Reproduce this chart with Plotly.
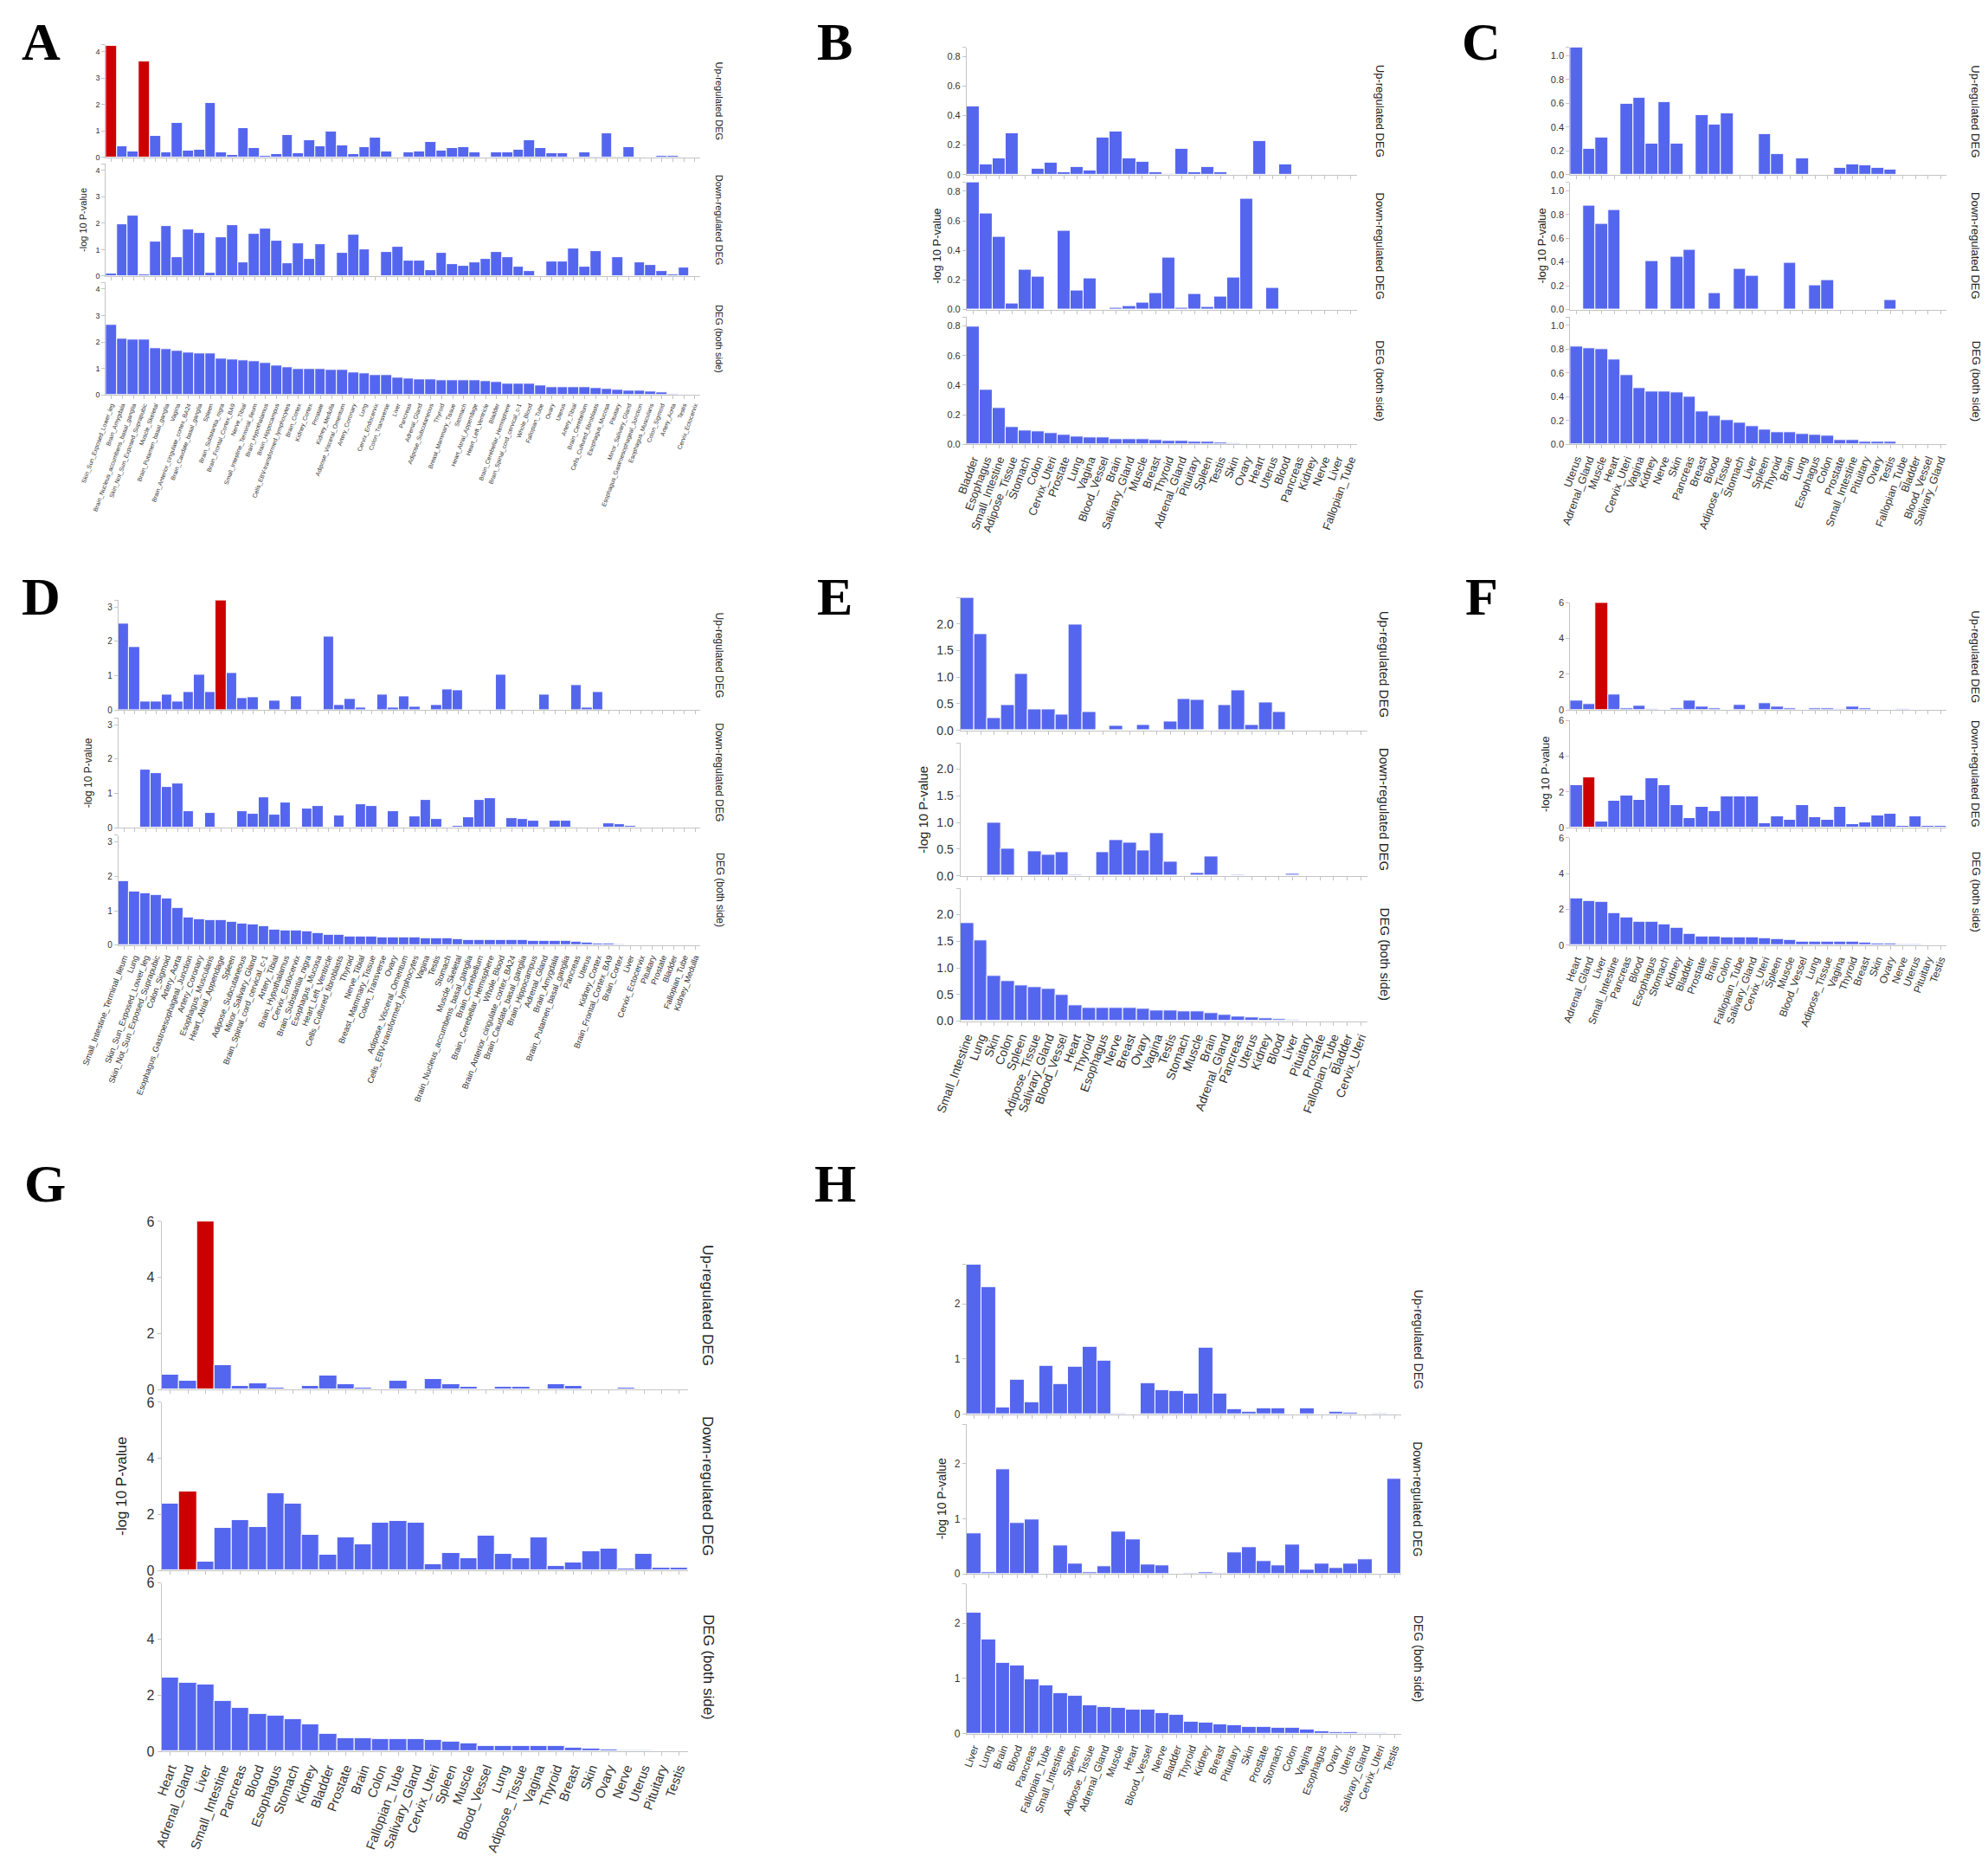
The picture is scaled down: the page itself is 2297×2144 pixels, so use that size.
import plotly.graph_objects as go

BLUE = "#5566ee"
RED = "#cc0000"

# ---- panel A (GTEx 54 tissues) ----
a_tissues = ["Skin_Sun_Exposed_Lower_leg", "Brain_Amygdala", "Brain_Nucleus_accumbens_basal_ganglia",
             "Skin_Not_Sun_Exposed_Suprapubic", "Muscle_Skeletal", "Brain_Putamen_basal_ganglia", "Vagina",
             "Brain_Anterior_cingulate_cortex_BA24", "Brain_Caudate_basal_ganglia", "Spleen",
             "Brain_Substantia_nigra", "Brain_Frontal_Cortex_BA9", "Nerve_Tibial",
             "Small_Intestine_Terminal_Ileum", "Brain_Hypothalamus", "Brain_Hippocampus",
             "Cells_EBV-transformed_lymphocytes", "Brain_Cortex", "Kidney_Cortex", "Prostate",
             "Kidney_Medulla", "Adipose_Visceral_Omentum", "Artery_Coronary", "Lung", "Cervix_Endocervix",
             "Colon_Transverse", "Liver", "Pancreas", "Adrenal_Gland", "Adipose_Subcutaneous", "Thyroid",
             "Breast_Mammary_Tissue", "Stomach", "Heart_Atrial_Appendage", "Heart_Left_Ventricle", "Bladder",
             "Brain_Cerebellar_Hemisphere", "Brain_Spinal_cord_cervical_c-1", "Whole_Blood", "Fallopian_Tube",
             "Ovary", "Uterus", "Artery_Tibial", "Brain_Cerebellum", "Cells_Cultured_fibroblasts",
             "Esophagus_Mucosa", "Pituitary", "Minor_Salivary_Gland", "Esophagus_Gastroesophageal_Junction",
             "Esophagus_Muscularis", "Colon_Sigmoid", "Artery_Aorta", "Testis", "Cervix_Ectocervix"]
a_up = [4.22, 0.42, 0.22, 3.62, 0.8, 0.18, 1.3, 0.25, 0.28, 2.05,
        0.2, 0.1, 1.1, 0.35, 0.06, 0.13, 0.85, 0.15, 0.65, 0.42,
        0.97, 0.45, 0.12, 0.4, 0.75, 0.22, 0, 0.2, 0.22, 0.6,
        0.25, 0.35, 0.4, 0.2, 0, 0.18, 0.18, 0.28, 0.65, 0.35,
        0.15, 0.15, 0, 0.2, 0.03, 0.9, 0.03, 0.4, 0, 0,
        0.05, 0.05, 0.01, 0.01]
a_down = [0.08, 1.95, 2.3, 0.05, 1.3, 1.9, 0.73, 1.75, 1.63, 0.12,
          1.48, 1.93, 0.52, 1.6, 1.78, 1.33, 0.48, 1.25, 0.66, 1.22,
          0, 0.87, 1.57, 1.02, 0, 0.9, 1.12, 0.6, 0.6, 0.23,
          0.88, 0.45, 0.4, 0.52, 0.65, 0.92, 0.7, 0.37, 0.2, 0,
          0.55, 0.55, 1.03, 0.37, 0.95, 0.01, 0.7, 0.03, 0.53, 0.43,
          0.2, 0.05, 0.32, 0]
a_both = [2.65, 2.12, 2.08, 2.08, 1.77, 1.73, 1.68, 1.6, 1.58, 1.55,
          1.38, 1.33, 1.3, 1.27, 1.22, 1.12, 1.03, 0.98, 0.98, 0.97,
          0.95, 0.95, 0.83, 0.82, 0.75, 0.74, 0.65, 0.63, 0.6, 0.57,
          0.56, 0.55, 0.55, 0.54, 0.53, 0.5, 0.42, 0.42, 0.42, 0.35,
          0.3, 0.3, 0.3, 0.29, 0.27, 0.23, 0.18, 0.15, 0.15, 0.12,
          0.09, 0.03, 0.01, 0.005]

# ---- panel B ----
b_tissues = ["Bladder", "Esophagus", "Small_Intestine", "Adipose_Tissue", "Stomach", "Colon", "Cervix_Uteri",
             "Prostate", "Lung", "Vagina", "Blood_Vessel", "Brain", "Salivary_Gland", "Muscle", "Breast",
             "Thyroid", "Adrenal_Gland", "Pituitary", "Spleen", "Testis", "Skin", "Ovary", "Heart", "Uterus",
             "Blood", "Pancreas", "Kidney", "Nerve", "Liver", "Fallopian_Tube"]
b_up = [0.46, 0.07, 0.11, 0.28, 0, 0.04, 0.08, 0.015, 0.055, 0.03,
        0.25, 0.29, 0.11, 0.085, 0.02, 0.008, 0.175, 0.015, 0.05, 0.015,
        0, 0, 0.225, 0, 0.068, 0, 0, 0, 0, 0]
b_down = [0.86, 0.65, 0.49, 0.04, 0.27, 0.22, 0, 0.535, 0.13, 0.21,
          0, 0.01, 0.025, 0.045, 0.11, 0.35, 0.01, 0.105, 0.015, 0.09,
          0.215, 0.75, 0, 0.145, 0, 0, 0, 0, 0, 0]
b_both = [0.795, 0.37, 0.245, 0.115, 0.095, 0.085, 0.075, 0.065, 0.05, 0.045,
          0.045, 0.035, 0.035, 0.035, 0.028, 0.022, 0.022, 0.015, 0.015, 0.01,
          0.003, 0, 0, 0, 0, 0, 0, 0, 0, 0]

# ---- panel C ----
c_tissues = ["Uterus", "Adrenal_Gland", "Muscle", "Heart", "Cervix_Uteri", "Vagina", "Kidney", "Nerve", "Skin",
             "Pancreas", "Breast", "Blood", "Adipose_Tissue", "Stomach", "Liver", "Spleen", "Thyroid", "Brain",
             "Lung", "Esophagus", "Colon", "Prostate", "Small_Intestine", "Pituitary", "Ovary", "Testis",
             "Fallopian_Tube", "Bladder", "Blood_Vessel", "Salivary_Gland"]
c_up = [1.07, 0.22, 0.31, 0, 0.6, 0.65, 0.26, 0.61, 0.26, 0,
        0.5, 0.42, 0.52, 0, 0, 0.34, 0.175, 0, 0.14, 0,
        0, 0.055, 0.09, 0.08, 0.06, 0.04, 0, 0, 0, 0]
c_down = [0, 0.87, 0.72, 0.835, 0, 0, 0.405, 0, 0.445, 0.5,
          0, 0.135, 0, 0.34, 0.285, 0, 0, 0.395, 0, 0.2,
          0.25, 0, 0, 0, 0, 0.08, 0, 0, 0, 0]
c_both = [0.825, 0.81, 0.8, 0.71, 0.585, 0.475, 0.445, 0.445, 0.435, 0.4,
          0.275, 0.24, 0.205, 0.18, 0.155, 0.125, 0.105, 0.1, 0.085, 0.078,
          0.075, 0.035, 0.033, 0.025, 0.022, 0.022, 0, 0, 0, 0]

# ---- panel D (GTEx 54 tissues) ----
d_tissues = ["Small_Intestine_Terminal_Ileum", "Lung", "Skin_Sun_Exposed_Lower_leg",
             "Skin_Not_Sun_Exposed_Suprapubic", "Colon_Sigmoid", "Artery_Aorta",
             "Esophagus_Gastroesophageal_Junction", "Artery_Coronary", "Esophagus_Muscularis",
             "Heart_Atrial_Appendage", "Spleen", "Adipose_Subcutaneous", "Minor_Salivary_Gland",
             "Brain_Spinal_cord_cervical_c-1", "Artery_Tibial", "Brain_Hypothalamus", "Cervix_Endocervix",
             "Brain_Substantia_nigra", "Esophagus_Mucosa", "Heart_Left_Ventricle", "Cells_Cultured_fibroblasts",
             "Thyroid", "Nerve_Tibial", "Breast_Mammary_Tissue", "Colon_Transverse", "Ovary",
             "Adipose_Visceral_Omentum", "Cells_EBV-transformed_lymphocytes", "Vagina", "Testis", "Stomach",
             "Muscle_Skeletal", "Brain_Nucleus_accumbens_basal_ganglia", "Brain_Cerebellum",
             "Brain_Cerebellar_Hemisphere", "Whole_Blood", "Brain_Anterior_cingulate_cortex_BA24",
             "Brain_Caudate_basal_ganglia", "Brain_Hippocampus", "Adrenal_Gland", "Brain_Amygdala",
             "Brain_Putamen_basal_ganglia", "Pancreas", "Uterus", "Kidney_Cortex", "Brain_Frontal_Cortex_BA9",
             "Brain_Cortex", "Liver", "Cervix_Ectocervix", "Pituitary", "Prostate", "Bladder", "Fallopian_Tube",
             "Kidney_Medulla"]
d_up = [2.53, 1.84, 0.26, 0.26, 0.44, 0.26, 0.53, 1.03, 0.52, 3.2,
        1.07, 0.35, 0.38, 0, 0.27, 0, 0.41, 0, 0, 2.13,
        0.14, 0.33, 0.07, 0, 0.45, 0.07, 0.41, 0.1, 0, 0.15,
        0.6, 0.58, 0, 0, 0, 1.04, 0, 0, 0, 0.46,
        0, 0, 0.74, 0.08, 0.52, 0, 0, 0, 0, 0,
        0, 0, 0, 0]
d_down = [0, 0, 1.69, 1.59, 1.18, 1.29, 0.47, 0, 0.42, 0.03,
          0, 0.48, 0.4, 0.89, 0.38, 0.74, 0, 0.56, 0.63, 0.02,
          0.36, 0, 0.68, 0.63, 0, 0.47, 0, 0.32, 0.81, 0.26,
          0, 0.06, 0.29, 0.81, 0.85, 0, 0.27, 0.25, 0.21, 0,
          0.2, 0.2, 0.02, 0, 0, 0.12, 0.1, 0.04, 0, 0,
          0, 0, 0, 0]
d_both = [1.87, 1.55, 1.5, 1.45, 1.36, 1.09, 0.81, 0.76, 0.74, 0.73,
          0.69, 0.63, 0.61, 0.55, 0.46, 0.43, 0.42, 0.39, 0.34, 0.3,
          0.29, 0.26, 0.26, 0.26, 0.235, 0.23, 0.22, 0.22, 0.21, 0.21,
          0.2, 0.185, 0.15, 0.15, 0.15, 0.15, 0.145, 0.14, 0.13, 0.13,
          0.125, 0.12, 0.1, 0.08, 0.06, 0.04, 0.03, 0.01, 0, 0,
          0, 0, 0, 0]

# ---- panel E ----
e_tissues = ["Small_Intestine", "Lung", "Skin", "Colon", "Spleen", "Adipose_Tissue", "Salivary_Gland",
             "Blood_Vessel", "Heart", "Thyroid", "Esophagus", "Nerve", "Breast", "Ovary", "Vagina", "Testis",
             "Stomach", "Muscle", "Brain", "Adrenal_Gland", "Pancreas", "Uterus", "Kidney", "Blood", "Liver",
             "Pituitary", "Prostate", "Fallopian_Tube", "Bladder", "Cervix_Uteri"]
e_up = [2.49, 1.81, 0.24, 0.47, 1.06, 0.4, 0.4, 0.29, 1.99, 0.34,
        0, 0.085, 0, 0.1, 0, 0.16, 0.59, 0.58, 0, 0.47,
        0.75, 0.1, 0.52, 0.34, 0, 0, 0, 0, 0, 0]
e_down = [0, 0, 0.99, 0.51, 0, 0.46, 0.4, 0.44, 0.025, 0,
          0.44, 0.67, 0.63, 0.48, 0.8, 0.26, 0, 0.06, 0.36, 0,
          0.02, 0, 0, 0, 0.04, 0, 0, 0, 0, 0]
e_both = [1.84, 1.52, 0.845, 0.75, 0.67, 0.64, 0.6, 0.49, 0.29, 0.25,
          0.25, 0.25, 0.25, 0.23, 0.2, 0.2, 0.19, 0.18, 0.15, 0.12,
          0.09, 0.07, 0.06, 0.03, 0.015, 0, 0, 0, 0, 0]

# ---- panels F and G (same result, G enlarged) ----
f_tissues = ["Heart", "Adrenal_Gland", "Liver", "Small_Intestine", "Pancreas", "Blood", "Esophagus", "Stomach",
             "Kidney", "Bladder", "Prostate", "Brain", "Colon", "Fallopian_Tube", "Salivary_Gland", "Cervix_Uteri",
             "Spleen", "Muscle", "Blood_Vessel", "Lung", "Adipose_Tissue", "Vagina", "Thyroid", "Breast", "Skin",
             "Ovary", "Nerve", "Uterus", "Pituitary", "Testis"]
f_up = [0.54, 0.32, 6.0, 0.88, 0.12, 0.23, 0.06, 0, 0.12, 0.51,
        0.19, 0.08, 0, 0.31, 0, 0.39, 0.19, 0.09, 0.01, 0.1,
        0.09, 0.05, 0.2, 0.12, 0.01, 0.02, 0.07, 0, 0, 0]
f_down = [2.39, 2.83, 0.33, 1.51, 1.81, 1.54, 2.76, 2.39, 1.28, 0.55,
          1.18, 0.94, 1.72, 1.76, 1.72, 0.24, 0.63, 0.44, 1.24, 0.6,
          0.43, 1.18, 0.17, 0.28, 0.69, 0.77, 0.08, 0.61, 0.09, 0.09]
f_both = [2.62, 2.45, 2.4, 1.79, 1.55, 1.33, 1.29, 1.16, 0.96, 0.63,
          0.47, 0.47, 0.44, 0.43, 0.43, 0.41, 0.35, 0.3, 0.19, 0.19,
          0.19, 0.19, 0.18, 0.14, 0.09, 0.08, 0.04, 0.03, 0.01, 0.01]

# ---- panel H ----
h_tissues = ["Liver", "Lung", "Brain", "Blood", "Pancreas", "Fallopian_Tube", "Small_Intestine", "Spleen",
             "Adipose_Tissue", "Adrenal_Gland", "Muscle", "Heart", "Blood_Vessel", "Nerve", "Bladder", "Thyroid",
             "Kidney", "Breast", "Pituitary", "Skin", "Prostate", "Stomach", "Colon", "Vagina", "Esophagus",
             "Ovary", "Uterus", "Salivary_Gland", "Cervix_Uteri", "Testis"]
h_up = [2.71, 2.3, 0.13, 0.62, 0.22, 0.88, 0.54, 0.855, 1.22, 0.97,
        0.015, 0, 0.565, 0.44, 0.42, 0.37, 1.2, 0.38, 0.09, 0.04,
        0.11, 0.1, 0, 0.11, 0, 0.05, 0.03, 0, 0.01, 0]
h_down = [0.74, 0.03, 1.9, 0.92, 0.99, 0, 0.52, 0.19, 0.03, 0.14,
          0.77, 0.62, 0.17, 0.16, 0, 0.02, 0.025, 0.02, 0.39, 0.48,
          0.23, 0.16, 0.53, 0.08, 0.18, 0.1, 0.18, 0.26, 0, 1.72]
h_both = [2.2, 1.7, 1.28, 1.24, 0.99, 0.87, 0.73, 0.69, 0.51, 0.48,
          0.46, 0.43, 0.43, 0.38, 0.34, 0.22, 0.2, 0.17, 0.15, 0.13,
          0.12, 0.1, 0.1, 0.08, 0.045, 0.03, 0.025, 0.02, 0.005, 0.003]

side_titles = ["Up-regulated DEG", "Down-regulated DEG", "DEG (both side)"]

# positions below are in a 1568 x 1464 reference frame
# box = (axis left, axis right, top of first plot, zero of last plot, gap)
panels = [
    dict(letter="A", pos=(27, 27), cats=a_tissues, data=(a_up, a_down, a_both), red=([0, 3], []),
         box=(78, 547, 30, 306, 5), yr=4.25, ticks=[0, 1, 2, 3, 4], fmt="{:.0f}",
         fs=7, ys=9, ts=11, ttl_x=60, side_x=562),
    dict(letter="B", pos=(653, 27), cats=b_tissues, data=(b_up, b_down, b_both), red=([], []),
         box=(757, 1065, 32, 345, 6), yr=0.86, ticks=[0, 0.2, 0.4, 0.6, 0.8], fmt="{:.1f}",
         fs=13, ys=11, ts=13, ttl_x=733, side_x=1083),
    dict(letter="C", pos=(1163, 27), cats=c_tissues, data=(c_up, c_down, c_both), red=([], []),
         box=(1233, 1530, 32, 345, 6), yr=1.07, ticks=[0, 0.2, 0.4, 0.6, 0.8, 1.0], fmt="{:.1f}",
         fs=12.5, ys=11, ts=13, ttl_x=1210, side_x=1553),
    dict(letter="D", pos=(27, 465), cats=d_tissues, data=(d_up, d_down, d_both), red=([9], []),
         box=(88, 547, 468, 740, 6), yr=3.2, ticks=[0, 1, 2, 3], fmt="{:.0f}",
         fs=9.5, ys=10, ts=12, ttl_x=64, side_x=562),
    dict(letter="E", pos=(653, 465), cats=e_tissues, data=(e_up, e_down, e_both), red=([], []),
         box=(752, 1073, 466, 800, 10), yr=2.49, ticks=[0, 0.5, 1.0, 1.5, 2.0], fmt="{:.1f}",
         fs=14, ys=14, ts=15, ttl_x=722, side_x=1087),
    dict(letter="F", pos=(1163, 465), cats=f_tissues, data=(f_up, f_down, f_both), red=([2], [1]),
         box=(1233, 1530, 470, 740, 8), yr=6.0, ticks=[0, 2, 4, 6], fmt="{:.0f}",
         fs=12, ys=11, ts=13, ttl_x=1213, side_x=1553),
    dict(letter="G", pos=(30, 928), cats=f_tissues, data=(f_up, f_down, f_both), red=([2], [1]),
         box=(122, 537, 958, 1376, 10), yr=6.0, ticks=[0, 2, 4, 6], fmt="{:.0f}",
         fs=15, ys=16, ts=17, ttl_x=90, side_x=553),
    dict(letter="H", pos=(653, 928), cats=h_tissues, data=(h_up, h_down, h_both), red=([], []),
         box=(757, 1100, 992, 1362, 8), yr=2.71, ticks=[0, 1, 2], fmt="{:.0f}",
         fs=12, ys=12, ts=14, ttl_x=737, side_x=1113),
]

FW, FH = 1568.0, 1464.0


def px(x):
    return x / FW


def py(y):
    return 1 - y / FH


fig = go.Figure()
annotations = []
n = 0
for p in panels:
    x0, x1, yt, yb, gap = p["box"]
    h = (yb - yt - 2 * gap) / 3.0
    for j in range(3):
        n += 1
        vals = p["data"][j]
        reds = p["red"][j] if j < 2 else []
        top = yt + j * (h + gap)
        bot = top + h
        colors = [RED if i in reds else BLUE for i in range(len(vals))]
        xa = "x" if n == 1 else f"x{n}"
        ya = "y" if n == 1 else f"y{n}"
        fig.add_trace(go.Bar(x=p["cats"], y=vals, xaxis=xa, yaxis=ya, showlegend=False,
                             marker=dict(color=colors, line=dict(color="white", width=1))))
        # tick at the top end of the y axis gives the small cap seen in the original
        yt_vals = p["ticks"] + [p["yr"]]
        yt_text = [p["fmt"].format(t) for t in p["ticks"]] + [""]
        fig.update_layout(**{
            ("xaxis" if n == 1 else f"xaxis{n}"): dict(
                domain=[px(x0), px(x1)], anchor=ya, type="category",
                categoryorder="array", categoryarray=p["cats"],
                tickmode="array", tickvals=p["cats"], ticktext=p["cats"],
                range=[-0.5, len(p["cats"]) - 0.5], automargin=False,
                showline=True, linecolor="#c4c4c4", linewidth=1,
                ticks="outside", ticklen=4, tickcolor="#c4c4c4",
                showticklabels=(j == 2), tickangle=-70,
                tickfont=dict(family="Liberation Sans", size=p["fs"], color="#333333"),
                showgrid=False, zeroline=False),
            ("yaxis" if n == 1 else f"yaxis{n}"): dict(
                domain=[py(bot), py(top)], anchor=xa, range=[0, p["yr"]], automargin=False,
                tickmode="array", tickvals=yt_vals, ticktext=yt_text,
                showline=True, linecolor="#c4c4c4", linewidth=1,
                ticks="outside", ticklen=4, tickcolor="#c4c4c4",
                tickfont=dict(family="Liberation Sans", size=p["ys"], color="#333333"),
                showgrid=False, zeroline=False),
        })
        annotations.append(dict(text=side_titles[j], x=px(p["side_x"]), y=py((top + bot) / 2),
                                xref="paper", yref="paper", showarrow=False, textangle=90,
                                xanchor="center", yanchor="middle",
                                font=dict(family="Liberation Sans", size=p["ts"], color="#222222")))
        if j == 1:
            annotations.append(dict(text="-log 10 P-value", x=px(p["ttl_x"]), y=py((top + bot) / 2),
                                    xref="paper", yref="paper", showarrow=False, textangle=-90,
                                    xanchor="center", yanchor="middle",
                                    font=dict(family="Liberation Sans", size=p["ts"], color="#222222")))
    annotations.append(dict(text="<b>" + p["letter"] + "</b>", x=px(p["pos"][0]), y=py(p["pos"][1]),
                            xref="paper", yref="paper", showarrow=False,
                            xanchor="center", yanchor="middle",
                            font=dict(family="Liberation Serif", size=62, color="black")))

fig.update_layout(template="none", width=2297, height=2144, margin=dict(l=0, r=0, t=0, b=0, pad=0),
                  paper_bgcolor="white", plot_bgcolor="white", bargap=0,
                  annotations=annotations)

fig.write_html("out.html")
